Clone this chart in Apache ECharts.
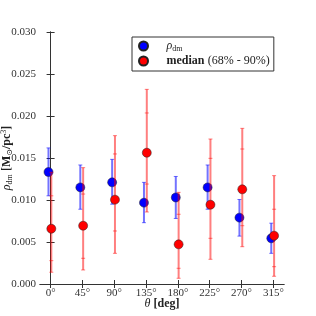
<!DOCTYPE html>
<html><head><meta charset="utf-8">
<script src="https://cdn.jsdelivr.net/npm/echarts@6/dist/echarts.min.js"></script>
<style>html,body{margin:0;padding:0;background:#fff}#c{width:316px;height:316px}</style>
</head><body><div id="c"></div>
<script>
const angles = [0, 45, 90, 135, 180, 225, 270, 315];
const tickLabels = ['0°', '45°', '90°', '135°', '180°', '225°', '270°', '315°'];
const yTicks = [0, 0.005, 0.010, 0.015, 0.020, 0.025, 0.030];
// rho_dm with error range
const rhoDm = [0.01333, 0.0115, 0.0121, 0.00968, 0.0103, 0.0115, 0.0079, 0.00544];
const rhoLo = [0.0105, 0.0089, 0.0095, 0.0073, 0.0078, 0.0089, 0.0057, 0.00365];
const rhoHi = [0.0162, 0.01417, 0.01484, 0.0121, 0.0128, 0.01417, 0.01006, 0.00724];
// median with 68% and 90% ranges
const median = [0.00658, 0.00694, 0.01004, 0.01563, 0.00472, 0.00944, 0.01127, 0.00575];
const lo68 = [0.00278, 0.00306, 0.00631, 0.0119, 0.00187, 0.00544, 0.00694, 0.00206];
const hi68 = [0.0105, 0.01071, 0.01548, 0.02036, 0.0083, 0.01496, 0.01607, 0.0089];
const lo90 = [0.0014, 0.00167, 0.00365, 0.00857, 0.00068, 0.00294, 0.00444, 0.00092];
const hi90 = [0.0133, 0.01385, 0.01766, 0.02317, 0.01091, 0.01726, 0.01853, 0.0129];

const blueShift = -3, redShift = 1;
const FONT = '"Liberation Serif", "DejaVu Serif", serif';

const blueBars = angles.map((a, i) => [a + blueShift, rhoLo[i], rhoHi[i]]);
const redBars = angles.map((a, i) => [a + redShift, lo90[i], hi90[i], lo68[i], hi68[i]]);
const bluePts = angles.map((a, i) => [a + blueShift, rhoDm[i]]);
const redPts = angles.map((a, i) => [a + redShift, median[i]]);

function errRender(color, nCaps) {
  return function (params, api) {
    const x = api.value(0);
    const a = api.coord([x, api.value(1)]);
    const b = api.coord([x, api.value(2)]);
    const children = [{
      type: 'line', shape: {x1: a[0], y1: a[1], x2: b[0], y2: b[1]},
      style: {stroke: color, lineWidth: 2}
    }];
    for (let k = 1; k <= nCaps; k++) {
      const p = api.coord([x, api.value(k)]);
      children.push({type: 'line', shape: {x1: p[0] - 2, y1: p[1], x2: p[0] + 2, y2: p[1]},
        style: {stroke: color, lineWidth: 1}});
    }
    return {type: 'group', children};
  };
}

const axisLineStyle = {show: true, lineStyle: {color: '#333', width: 1}};
const xCommon = {type: 'value', min: -15, max: 330, splitLine: {show: false}, axisLine: axisLineStyle};
const yCommon = {type: 'value', min: 0, max: 0.03, splitLine: {show: false}, axisLine: axisLineStyle};

const chart = echarts.init(document.getElementById('c'), null, {renderer: 'canvas'});
chart.setOption({
  animation: false,
  backgroundColor: '#fff',
  grid: {left: 40, right: 32, top: 32, bottom: 32, containLabel: false, outerBoundsMode: 'none'},
  xAxis: [
    Object.assign({}, xCommon, {
      position: 'bottom',
      axisTick: {inside: true, length: 4, customValues: angles, lineStyle: {color: '#333'}},
      axisLabel: {customValues: angles, margin: 4, color: '#333', fontFamily: FONT, fontSize: 11,
        formatter: v => tickLabels[angles.indexOf(v)]},
      name: '{i|θ} {b|[deg]}', nameLocation: 'middle', nameGap: 14, nameMoveOverlap: false,
      nameTextStyle: {rich: {
        i: {fontFamily: FONT, fontStyle: 'italic', fontSize: 12, color: '#222'},
        b: {fontFamily: FONT, fontWeight: 'bold', fontSize: 12, color: '#222'}
      }}
    }),
    Object.assign({}, xCommon, {
      position: 'top',
      axisTick: {inside: true, length: 4, customValues: angles, lineStyle: {color: '#333'}},
      axisLabel: {show: false}
    })
  ],
  yAxis: [
    Object.assign({}, yCommon, {
      position: 'left',
      axisTick: {inside: true, length: 4, customValues: yTicks, lineStyle: {color: '#333'}},
      axisLabel: {customValues: yTicks, margin: 4, color: '#333', fontFamily: FONT, fontSize: 11,
        formatter: v => v.toFixed(3)},
      name: '{i|ρ}{s|dm} {b|[M}{s|⊙}{b|/pc}{p|3}{b|]}', nameLocation: 'middle', nameRotate: 90,
      nameGap: 26, nameMoveOverlap: false,
      nameTextStyle: {rich: {
        i: {fontFamily: FONT, fontStyle: 'italic', fontSize: 12, color: '#222', lineHeight: 14},
        b: {fontFamily: FONT, fontWeight: 'bold', fontSize: 12, color: '#222', lineHeight: 14},
        s: {fontFamily: FONT, fontSize: 8, color: '#222', verticalAlign: 'bottom', lineHeight: 14},
        p: {fontFamily: FONT, fontSize: 8, color: '#222', verticalAlign: 'top', lineHeight: 14}
      }}
    }),
    Object.assign({}, yCommon, {
      position: 'right',
      axisTick: {inside: true, length: 4, customValues: yTicks, lineStyle: {color: '#333'}},
      axisLabel: {show: false}
    })
  ],
  legend: {
    orient: 'vertical', left: 132, top: 37,
    padding: [3, 4, 4, 6], itemGap: 2,
    itemWidth: 20, itemHeight: 9,
    borderColor: '#333', borderWidth: 1, borderRadius: 0, backgroundColor: '#fff',
    data: [{name: 'rho', icon: 'circle'}, {name: 'median', icon: 'circle'}],
    formatter: n => n === 'rho' ? '{i|ρ}{s|dm}' : '{b|median} {n|(68% - 90%)}',
    textStyle: {rich: {
      i: {fontFamily: FONT, fontStyle: 'italic', fontSize: 12, color: '#222', lineHeight: 14, padding: [0, 0, 0, 8]},
      s: {fontFamily: FONT, fontSize: 8, color: '#222', verticalAlign: 'bottom', lineHeight: 14},
      b: {fontFamily: FONT, fontWeight: 'bold', fontSize: 12, color: '#222', lineHeight: 14, padding: [0, 0, 0, 8]},
      n: {fontFamily: FONT, fontSize: 12, color: '#222', lineHeight: 14}
    }}
  },
  series: [
    {type: 'custom', name: 'rhoErr', renderItem: errRender('rgba(0,0,255,0.55)', 2),
      data: blueBars, encode: {x: 0, y: [1, 2]}, z: 1, silent: true},
    {type: 'scatter', name: 'rho', data: bluePts, symbolSize: 9, z: 2,
      itemStyle: {color: '#0000ff', borderColor: '#222', borderWidth: 0.5, opacity: 1}},
    {type: 'custom', name: 'medErr', renderItem: errRender('rgba(255,0,0,0.5)', 4),
      data: redBars, encode: {x: 0, y: [1, 2, 3, 4]}, z: 3, silent: true},
    {type: 'scatter', name: 'median', data: redPts, symbolSize: 9, z: 4,
      itemStyle: {color: '#ff0000', borderColor: '#222', borderWidth: 0.5, opacity: 1}}
  ]
});
</script></body></html>
